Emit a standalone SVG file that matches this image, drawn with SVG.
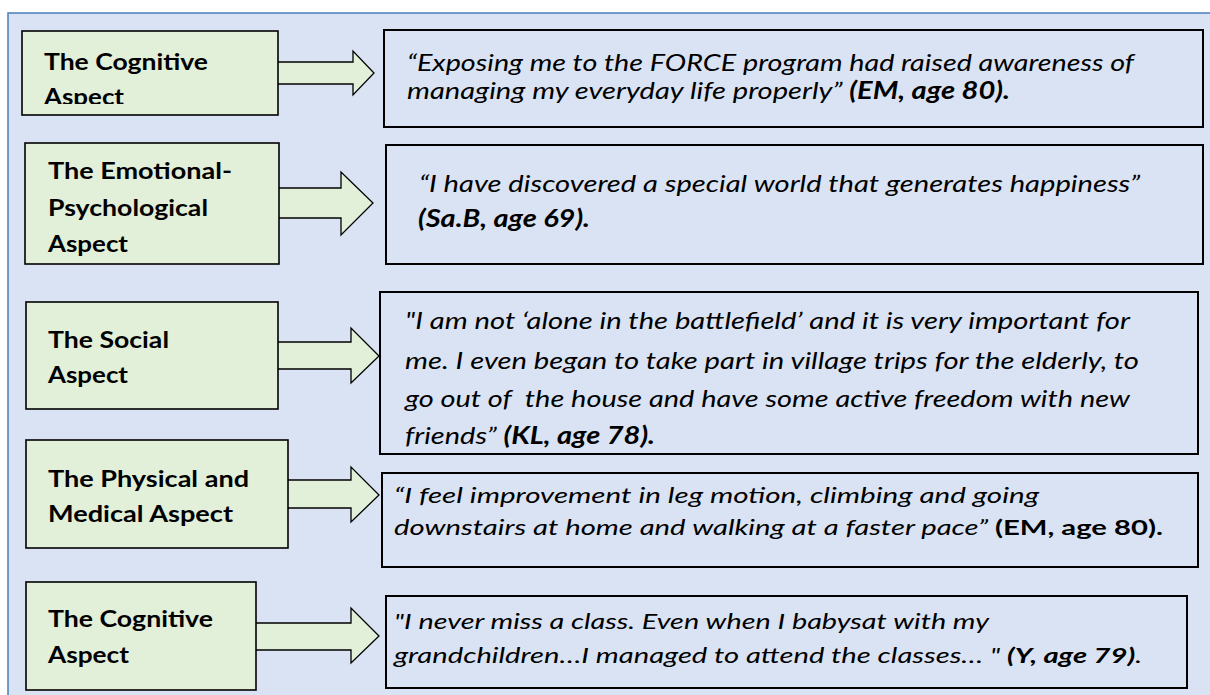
<svg xmlns="http://www.w3.org/2000/svg" width="1210" height="695" viewBox="0 0 1210 695">
  <style>
    .frame { fill: #dae3f3; stroke: #4a7ebb; stroke-width: 1.5; }
    .aspect { fill: #e2efd9; stroke: #000; stroke-width: 1.6; }
    .arrow { fill: #e2efd9; stroke: #000; stroke-width: 1.3; stroke-linejoin: miter; }
    .quote { fill: #dae3f3; stroke: #000; stroke-width: 2; }
    .lbl { font-family: Lato, "Liberation Sans", sans-serif; font-weight: bold; font-size: 23px; fill: #000; }
    .q { font-family: Lato, "Liberation Sans", sans-serif; font-style: italic; font-size: 24px; fill: #000; white-space: pre; }
    .qs { font-size: 21px; }
    .b { font-weight: bold; }
    .up { font-style: normal; }
  </style>
  <defs>
    <clipPath id="clip-first">
      <rect x="22" y="31" width="256" height="73"/>
    </clipPath>
  </defs>

  <rect class="frame" x="8" y="13" width="1215" height="700"/>

  <!-- block arrows from each aspect to its quotation -->
  <g id="connectors">
    <polygon class="arrow" points="270,62 353,62 353,51 374,73 353,95 353,84 270,84"/>
    <polygon class="arrow" points="270,188 341,188 341,172 373,203 341,235 341,218 270,218"/>
    <polygon class="arrow" points="270,342 351,342 351,328 379,356 351,383 351,369 270,369"/>
    <polygon class="arrow" points="280,480 351,480 351,467 379,495 351,522 351,508 280,508"/>
    <polygon class="arrow" points="248,623 351,623 351,608 379,636 351,663 351,650 248,650"/>
  </g>

  <g id="aspect-cognitive-1">
    <rect class="aspect" x="22" y="31" width="256" height="84"/>
    <g clip-path="url(#clip-first)">
      <text class="lbl" x="44" y="70" textLength="164" lengthAdjust="spacingAndGlyphs">The Cognitive</text>
      <text class="lbl" x="44" y="105" textLength="80" lengthAdjust="spacingAndGlyphs">Aspect</text>
    </g>
  </g>

  <g id="aspect-emotional">
    <rect class="aspect" x="25" y="143" width="254" height="121"/>
    <text class="lbl" x="48" y="179" textLength="184" lengthAdjust="spacingAndGlyphs">The Emotional-</text>
    <text class="lbl" x="48" y="216" textLength="160" lengthAdjust="spacingAndGlyphs">Psychological</text>
    <text class="lbl" x="48" y="252" textLength="80" lengthAdjust="spacingAndGlyphs">Aspect</text>
  </g>

  <g id="aspect-social">
    <rect class="aspect" x="26" y="302" width="252" height="107"/>
    <text class="lbl" x="48" y="348" textLength="121" lengthAdjust="spacingAndGlyphs">The Social</text>
    <text class="lbl" x="48" y="383" textLength="80" lengthAdjust="spacingAndGlyphs">Aspect</text>
  </g>

  <g id="aspect-physical">
    <rect class="aspect" x="26" y="440" width="262" height="108"/>
    <text class="lbl" x="48" y="487" textLength="201" lengthAdjust="spacingAndGlyphs">The Physical and</text>
    <text class="lbl" x="48" y="522" textLength="185" lengthAdjust="spacingAndGlyphs">Medical Aspect</text>
  </g>

  <g id="aspect-cognitive-2">
    <rect class="aspect" x="26" y="582" width="230" height="108"/>
    <text class="lbl" x="48" y="627" textLength="165" lengthAdjust="spacingAndGlyphs">The Cognitive</text>
    <text class="lbl" x="48" y="663" textLength="81" lengthAdjust="spacingAndGlyphs">Aspect</text>
  </g>

  <g id="quote-cognitive-1">
    <rect class="quote" x="384" y="30" width="819" height="97"/>
    <text class="q" x="407" y="71" textLength="727" lengthAdjust="spacingAndGlyphs">“Exposing me to the FORCE program had raised awareness of</text>
    <text class="q" x="407" y="99" textLength="603" lengthAdjust="spacingAndGlyphs">managing my everyday life properly” <tspan class="b">(EM, age 80).</tspan></text>
  </g>

  <g id="quote-emotional">
    <rect class="quote" x="386" y="145" width="817" height="119"/>
    <text class="q" x="419" y="192" textLength="721" lengthAdjust="spacingAndGlyphs">“I have discovered a special world that generates happiness”</text>
    <text class="q b" x="418" y="227" textLength="172" lengthAdjust="spacingAndGlyphs">(Sa.B, age 69).</text>
  </g>

  <g id="quote-social">
    <rect class="quote" x="380" y="292" width="818" height="162"/>
    <text class="q" x="405" y="329" textLength="725" lengthAdjust="spacingAndGlyphs">"I am not ‘alone in the battlefield’ and it is very important for</text>
    <text class="q" x="405" y="369" textLength="734" lengthAdjust="spacingAndGlyphs">me. I even began to take part in village trips for the elderly, to</text>
    <text class="q" x="405" y="407" textLength="725" lengthAdjust="spacingAndGlyphs">go out of  the house and have some active freedom with new</text>
    <text class="q" x="405" y="444" textLength="250" lengthAdjust="spacingAndGlyphs">friends” <tspan class="b">(KL, age 78).</tspan></text>
  </g>

  <g id="quote-physical">
    <rect class="quote" x="382" y="473" width="816" height="94"/>
    <text class="q qs" x="394" y="503" textLength="645" lengthAdjust="spacingAndGlyphs">“I feel improvement in leg motion, climbing and going</text>
    <text class="q qs" x="394" y="535" textLength="769" lengthAdjust="spacingAndGlyphs">downstairs at home and walking at a faster pace” <tspan class="b up">(EM, age 80).</tspan></text>
  </g>

  <g id="quote-cognitive-2">
    <rect class="quote" x="386" y="596" width="801" height="92"/>
    <text class="q qs" x="394" y="629" textLength="595" lengthAdjust="spacingAndGlyphs">"I never miss a class. Even when I babysat with my</text>
    <text class="q qs" x="394" y="663" textLength="748" lengthAdjust="spacingAndGlyphs">grandchildren…I managed to attend the classes… " <tspan class="b">(Y, age 79)</tspan>.</text>
  </g>
</svg>
